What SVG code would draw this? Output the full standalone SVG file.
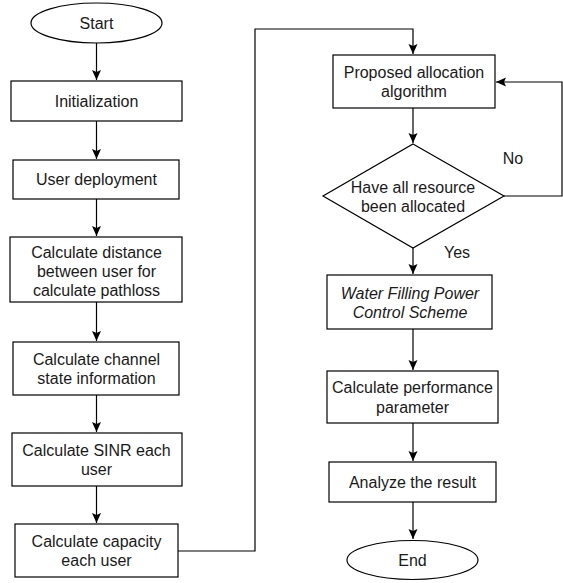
<svg xmlns="http://www.w3.org/2000/svg" width="563" height="583" viewBox="0 0 563 583">
<defs>
<style>
.n{fill:#fff;stroke:#000;stroke-width:1.2}
.t{font-family:"Liberation Sans",Arial,sans-serif;font-size:16px;fill:#1a1a1a;text-anchor:middle;dominant-baseline:central}
.i{font-style:italic}
.c{fill:none;stroke:#000;stroke-width:1.2}
</style>
<marker id="ah" markerUnits="userSpaceOnUse" markerWidth="12" markerHeight="10" refX="10" refY="4.5" orient="auto">
<path d="M0,0 L10,4.5 L0,9 L2,4.5 z" fill="#000"/>
</marker>
</defs>
<rect width="563" height="583" fill="#fff"/>
<g id="connectors">
<path class="c" d="M96.5,43 V80" marker-end="url(#ah)"/>
<path class="c" d="M96.5,121 V159" marker-end="url(#ah)"/>
<path class="c" d="M96.5,199 V236" marker-end="url(#ah)"/>
<path class="c" d="M96.5,302 V341" marker-end="url(#ah)"/>
<path class="c" d="M96.5,395 V432" marker-end="url(#ah)"/>
<path class="c" d="M96.5,486 V523" marker-end="url(#ah)"/>
<path class="c" d="M178,551 H255 V29 H413 V54" marker-end="url(#ah)"/>
<path class="c" d="M413,108 V143" marker-end="url(#ah)"/>
<path class="c" d="M504,196 H562 V82 H496" marker-end="url(#ah)"/>
<path class="c" d="M413,248 V274" marker-end="url(#ah)"/>
<path class="c" d="M413,329 V370" marker-end="url(#ah)"/>
<path class="c" d="M413,423 V461" marker-end="url(#ah)"/>
<path class="c" d="M413,502 V539" marker-end="url(#ah)"/>
<text class="t" x="513" y="158">No</text>
<text class="t" x="457" y="252">Yes</text>
</g>
<g id="start">
<ellipse class="n" cx="96.5" cy="23" rx="65.5" ry="20"/>
<text class="t" x="96.5" y="23">Start</text>
</g>
<g id="init">
<rect class="n" x="11" y="81" width="171" height="40"/>
<text class="t" x="96.5" y="101">Initialization</text>
</g>
<g id="deploy">
<rect class="n" x="13" y="160" width="166" height="39"/>
<text class="t" x="96.5" y="179.5">User deployment</text>
</g>
<g id="distance">
<rect class="n" x="10" y="237" width="172" height="65"/>
<text class="t" x="96.5" y="252">Calculate distance</text>
<text class="t" x="96.5" y="271">between user for</text>
<text class="t" x="96.5" y="290">calculate pathloss</text>
</g>
<g id="csi">
<rect class="n" x="13" y="342" width="166" height="53"/>
<text class="t" x="96.5" y="359">Calculate channel</text>
<text class="t" x="96.5" y="378.5">state information</text>
</g>
<g id="sinr">
<rect class="n" x="12" y="433" width="170" height="53"/>
<text class="t" x="96.5" y="450">Calculate SINR each</text>
<text class="t" x="96.5" y="469.5">user</text>
</g>
<g id="capacity">
<rect class="n" x="15" y="524" width="163" height="53"/>
<text class="t" x="96.5" y="541">Calculate capacity</text>
<text class="t" x="96.5" y="560.5">each user</text>
</g>
<g id="proposed">
<rect class="n" x="333" y="55" width="162" height="53"/>
<text class="t" x="414" y="72">Proposed allocation</text>
<text class="t" x="414" y="91.5">algorithm</text>
</g>
<g id="decision">
<path class="n" d="M413,144 L504,196 L413,248 L323,196 Z"/>
<text class="t" x="413" y="187">Have all resource</text>
<text class="t" x="413" y="206">been allocated</text>
</g>
<g id="waterfilling">
<rect class="n" x="327" y="275" width="165" height="54"/>
<text class="t i" x="410" y="293">Water Filling Power</text>
<text class="t i" x="410" y="312">Control Scheme</text>
</g>
<g id="performance">
<rect class="n" x="327" y="371" width="171" height="52"/>
<text class="t" x="412.5" y="387.5">Calculate performance</text>
<text class="t" x="412.5" y="407">parameter</text>
</g>
<g id="analyze">
<rect class="n" x="329" y="462" width="167" height="40"/>
<text class="t" x="412.5" y="482">Analyze the result</text>
</g>
<g id="end">
<ellipse class="n" cx="412.5" cy="560" rx="65.5" ry="19.5"/>
<text class="t" x="412.5" y="560">End</text>
</g>
</svg>
